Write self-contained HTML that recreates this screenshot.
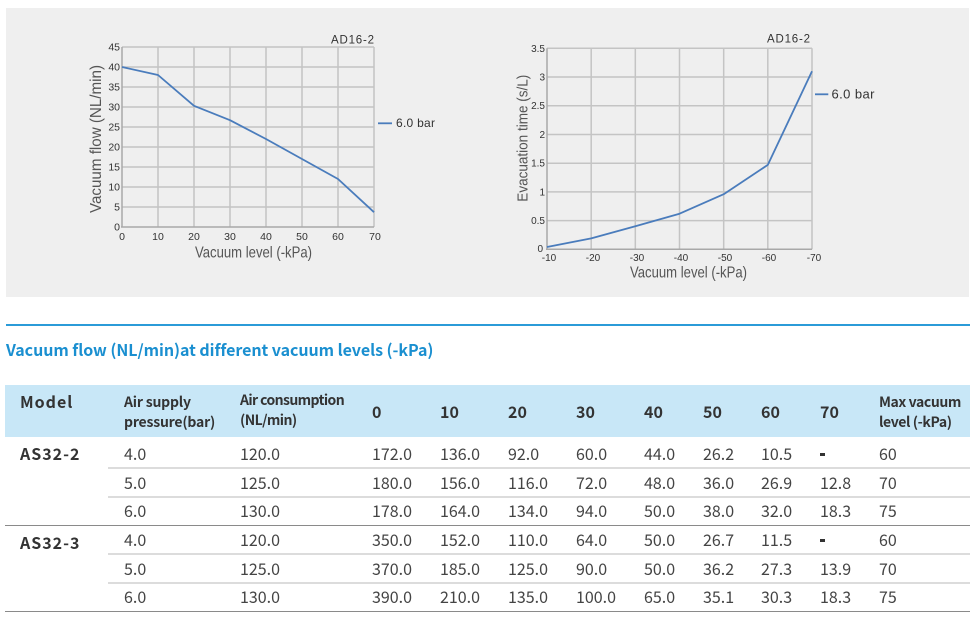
<!DOCTYPE html>
<html>
<head>
<meta charset="utf-8">
<style>
  html,body{margin:0;padding:0;background:#fff;}
  #root{position:relative;width:975px;height:626px;overflow:hidden;background:#fff;
    font-family:"Noto Sans CJK SC","Liberation Sans",sans-serif;color:#3a3a3a;}
  .abs{position:absolute;white-space:nowrap;}
  .d{position:absolute;white-space:nowrap;font-size:16px;line-height:22px;color:#444;}
  .h{position:absolute;white-space:nowrap;font-size:14px;line-height:20px;font-weight:bold;color:#333;letter-spacing:-0.2px;}
  .hn{position:absolute;white-space:nowrap;font-size:16px;line-height:22px;font-weight:bold;color:#333;}
  .m{position:absolute;white-space:nowrap;font-size:16px;line-height:22px;font-weight:bold;color:#333;letter-spacing:1px;}
  .dash{position:absolute;width:5px;height:2.5px;background:#333;}
</style>
</head>
<body>
<div id="root">
  <svg class="abs" style="left:0;top:0" width="975" height="300" viewBox="0 0 975 300" xmlns="http://www.w3.org/2000/svg">
    <rect x="6" y="8" width="963" height="289" fill="#efefef"/>
    <!-- LEFT CHART -->
    <g stroke="#c4c4c4" stroke-width="1.5" fill="none">
      <line x1="122" y1="47" x2="374" y2="47"/>
      <line x1="122" y1="67" x2="374" y2="67"/>
      <line x1="122" y1="87" x2="374" y2="87"/>
      <line x1="122" y1="107" x2="374" y2="107"/>
      <line x1="122" y1="127" x2="374" y2="127"/>
      <line x1="122" y1="147" x2="374" y2="147"/>
      <line x1="122" y1="167" x2="374" y2="167"/>
      <line x1="122" y1="187" x2="374" y2="187"/>
      <line x1="122" y1="207" x2="374" y2="207"/>
      <line x1="158" y1="47" x2="158" y2="227"/>
      <line x1="194" y1="47" x2="194" y2="227"/>
      <line x1="230" y1="47" x2="230" y2="227"/>
      <line x1="266" y1="47" x2="266" y2="227"/>
      <line x1="302" y1="47" x2="302" y2="227"/>
      <line x1="338" y1="47" x2="338" y2="227"/>
      <line x1="374" y1="47" x2="374" y2="227"/>
    </g>
    <g stroke="#a8a8a8" stroke-width="1.5">
      <line x1="122" y1="47" x2="122" y2="227"/>
      <line x1="121" y1="227" x2="374" y2="227"/>
    </g>
    <polyline fill="none" stroke="#4a7cbc" stroke-width="1.8" stroke-linejoin="round"
      points="122,67 158,75 194,105.8 230,120.2 266,139 302,159 338,179 374,212.2"/>
    <g font-family="Liberation Sans, sans-serif" font-size="10.5" fill="#333" text-anchor="end">
      <text x="120" y="50.7">45</text>
      <text x="120" y="70.7">40</text>
      <text x="120" y="90.7">35</text>
      <text x="120" y="110.7">30</text>
      <text x="120" y="130.7">25</text>
      <text x="120" y="150.7">20</text>
      <text x="120" y="170.7">15</text>
      <text x="120" y="190.7">10</text>
      <text x="120" y="210.7">5</text>
      <text x="120" y="230.7">0</text>
    </g>
    <g font-family="Liberation Sans, sans-serif" font-size="10.5" fill="#333" text-anchor="middle">
      <text x="122" y="239.8">0</text>
      <text x="158" y="239.8">10</text>
      <text x="194" y="239.8">20</text>
      <text x="230" y="239.8">30</text>
      <text x="266" y="239.8">40</text>
      <text x="302" y="239.8">50</text>
      <text x="338" y="239.8">60</text>
      <text x="375" y="239.8">70</text>
    </g>
    <text x="195" y="257.5" font-family="Liberation Sans, sans-serif" font-size="16" fill="#555" textLength="117" lengthAdjust="spacingAndGlyphs">Vacuum level (-kPa)</text>
    <text transform="translate(101,213) rotate(-90)" x="0" y="0" font-family="Liberation Sans, sans-serif" font-size="16" fill="#555" textLength="148" lengthAdjust="spacingAndGlyphs">Vacuum flow (NL/min)</text>
    <text x="331" y="43.3" font-family="Liberation Sans, sans-serif" font-size="11.5" fill="#333" textLength="43" lengthAdjust="spacing">AD16-2</text>
    <line x1="378" y1="123.3" x2="392" y2="123.3" stroke="#4a7cbc" stroke-width="1.8"/>
    <text x="396" y="127.2" font-family="Liberation Sans, sans-serif" font-size="12" fill="#333" textLength="39" lengthAdjust="spacing">6.0 bar</text>

    <!-- RIGHT CHART -->
    <g stroke="#c4c4c4" stroke-width="1.5" fill="none">
      <line x1="547" y1="48.3" x2="812" y2="48.3"/>
      <line x1="547" y1="77" x2="812" y2="77"/>
      <line x1="547" y1="105.7" x2="812" y2="105.7"/>
      <line x1="547" y1="134.5" x2="812" y2="134.5"/>
      <line x1="547" y1="163.2" x2="812" y2="163.2"/>
      <line x1="547" y1="191.9" x2="812" y2="191.9"/>
      <line x1="547" y1="220.6" x2="812" y2="220.6"/>
      <line x1="591.2" y1="48.3" x2="591.2" y2="249.3"/>
      <line x1="635.3" y1="48.3" x2="635.3" y2="249.3"/>
      <line x1="679.5" y1="48.3" x2="679.5" y2="249.3"/>
      <line x1="723.7" y1="48.3" x2="723.7" y2="249.3"/>
      <line x1="767.8" y1="48.3" x2="767.8" y2="249.3"/>
      <line x1="812" y1="48.3" x2="812" y2="249.3"/>
    </g>
    <g stroke="#a8a8a8" stroke-width="1.5">
      <line x1="547" y1="48.3" x2="547" y2="249.3"/>
      <line x1="546" y1="249.3" x2="812" y2="249.3"/>
    </g>
    <polyline fill="none" stroke="#4a7cbc" stroke-width="1.8" stroke-linejoin="round"
      points="547,247 591.2,238.4 635.3,226.3 679.5,213.7 723.7,194.2 767.8,164.9 812,71.3"/>
    <g font-family="Liberation Sans, sans-serif" font-size="10" fill="#333" text-anchor="end">
      <text x="545" y="51.8">3.5</text>
      <text x="545" y="80.5">3</text>
      <text x="545" y="109.2">2.5</text>
      <text x="545" y="138">2</text>
      <text x="545" y="166.7">1.5</text>
      <text x="545" y="195.4">1</text>
      <text x="545" y="224.1">0.5</text>
      <text x="543" y="252.2">0</text>
    </g>
    <g font-family="Liberation Sans, sans-serif" font-size="10" fill="#333" text-anchor="middle">
      <text x="549" y="261">-10</text>
      <text x="593" y="261">-20</text>
      <text x="637" y="261">-30</text>
      <text x="681" y="261">-40</text>
      <text x="725" y="261">-50</text>
      <text x="769" y="261">-60</text>
      <text x="814" y="261">-70</text>
    </g>
    <text x="630" y="277.3" font-family="Liberation Sans, sans-serif" font-size="16" fill="#555" textLength="117" lengthAdjust="spacingAndGlyphs">Vacuum level (-kPa)</text>
    <text transform="translate(527.7,201.7) rotate(-90)" x="0" y="0" font-family="Liberation Sans, sans-serif" font-size="15" fill="#555" textLength="127" lengthAdjust="spacingAndGlyphs">Evacuation time (s/L)</text>
    <text x="767" y="42.3" font-family="Liberation Sans, sans-serif" font-size="11.5" fill="#333" textLength="43" lengthAdjust="spacing">AD16-2</text>
    <line x1="815" y1="94.3" x2="828.3" y2="94.3" stroke="#4a7cbc" stroke-width="1.8"/>
    <text x="831.5" y="98.5" font-family="Liberation Sans, sans-serif" font-size="13" fill="#333" textLength="43" lengthAdjust="spacing">6.0 bar</text>
  </svg>

  <!-- blue rule -->
  <div class="abs" style="left:6px;top:324px;width:964px;height:2px;background:#2b9bd8;"></div>
  <!-- title -->
  <div class="abs" style="left:6px;top:338px;font-size:16px;line-height:22px;font-weight:bold;color:#1a8fd0;letter-spacing:-0.05px;">Vacuum flow (NL/min)at different vacuum levels (-kPa)</div>

  <!-- header band -->
  <div class="abs" style="left:5px;top:385px;width:965px;height:52px;background:#c8e7f7;"></div>
  <div class="m" style="left:20px;top:389.5px;">Model</div>
  <div class="h" style="left:124px;top:391.5px;">Air supply<br>pressure(bar)</div>
  <div class="h" style="left:240px;top:390px;letter-spacing:-0.6px;">Air consumption<br>(NL/min)</div>
  <div class="hn" style="left:372px;top:399.5px;">0</div>
  <div class="hn" style="left:440px;top:399.5px;">10</div>
  <div class="hn" style="left:508px;top:399.5px;">20</div>
  <div class="hn" style="left:576px;top:399.5px;">30</div>
  <div class="hn" style="left:644px;top:399.5px;">40</div>
  <div class="hn" style="left:703px;top:399.5px;">50</div>
  <div class="hn" style="left:761px;top:399.5px;">60</div>
  <div class="hn" style="left:820px;top:399.5px;">70</div>
  <div class="h" style="left:879px;top:391.5px;letter-spacing:-0.4px;">Max vacuum<br>level (-kPa)</div>

  <!-- row lines -->
  <div class="abs" style="left:108px;top:467px;width:862px;height:2px;background:#dcdcdc;"></div>
  <div class="abs" style="left:108px;top:495.5px;width:862px;height:2px;background:#dcdcdc;"></div>
  <div class="abs" style="left:5px;top:524.5px;width:965px;height:1px;background:#8a8a8a;"></div>
  <div class="abs" style="left:108px;top:553px;width:862px;height:2px;background:#dcdcdc;"></div>
  <div class="abs" style="left:108px;top:582px;width:862px;height:2px;background:#dcdcdc;"></div>
  <div class="abs" style="left:5px;top:610.5px;width:965px;height:1px;background:#8a8a8a;"></div>

  <!-- model labels -->
  <div class="m" style="left:20px;top:442.2px;">AS32-2</div>
  <div class="m" style="left:20px;top:531px;">AS32-3</div>

  <!-- rows -->
  <div style="position:absolute;left:0;top:442.2px;">
    <div class="d" style="left:124px;">4.0</div><div class="d" style="left:240px;">120.0</div>
    <div class="d" style="left:372px;">172.0</div><div class="d" style="left:440px;">136.0</div>
    <div class="d" style="left:508px;">92.0</div><div class="d" style="left:576px;">60.0</div>
    <div class="d" style="left:644px;">44.0</div><div class="d" style="left:703px;">26.2</div>
    <div class="d" style="left:761px;">10.5</div><div class="d" style="left:820px;color:transparent;">-</div>
    <div class="d" style="left:879px;">60</div>
  </div>
  <div class="dash" style="left:820px;top:453px;"></div>
  <div style="position:absolute;left:0;top:470.8px;">
    <div class="d" style="left:124px;">5.0</div><div class="d" style="left:240px;">125.0</div>
    <div class="d" style="left:372px;">180.0</div><div class="d" style="left:440px;">156.0</div>
    <div class="d" style="left:508px;">116.0</div><div class="d" style="left:576px;">72.0</div>
    <div class="d" style="left:644px;">48.0</div><div class="d" style="left:703px;">36.0</div>
    <div class="d" style="left:761px;">26.9</div><div class="d" style="left:820px;">12.8</div>
    <div class="d" style="left:879px;">70</div>
  </div>
  <div style="position:absolute;left:0;top:499.4px;">
    <div class="d" style="left:124px;">6.0</div><div class="d" style="left:240px;">130.0</div>
    <div class="d" style="left:372px;">178.0</div><div class="d" style="left:440px;">164.0</div>
    <div class="d" style="left:508px;">134.0</div><div class="d" style="left:576px;">94.0</div>
    <div class="d" style="left:644px;">50.0</div><div class="d" style="left:703px;">38.0</div>
    <div class="d" style="left:761px;">32.0</div><div class="d" style="left:820px;">18.3</div>
    <div class="d" style="left:879px;">75</div>
  </div>
  <div style="position:absolute;left:0;top:528px;">
    <div class="d" style="left:124px;">4.0</div><div class="d" style="left:240px;">120.0</div>
    <div class="d" style="left:372px;">350.0</div><div class="d" style="left:440px;">152.0</div>
    <div class="d" style="left:508px;">110.0</div><div class="d" style="left:576px;">64.0</div>
    <div class="d" style="left:644px;">50.0</div><div class="d" style="left:703px;">26.7</div>
    <div class="d" style="left:761px;">11.5</div><div class="d" style="left:820px;color:transparent;">-</div>
    <div class="d" style="left:879px;">60</div>
  </div>
  <div class="dash" style="left:820px;top:539px;"></div>
  <div style="position:absolute;left:0;top:556.6px;">
    <div class="d" style="left:124px;">5.0</div><div class="d" style="left:240px;">125.0</div>
    <div class="d" style="left:372px;">370.0</div><div class="d" style="left:440px;">185.0</div>
    <div class="d" style="left:508px;">125.0</div><div class="d" style="left:576px;">90.0</div>
    <div class="d" style="left:644px;">50.0</div><div class="d" style="left:703px;">36.2</div>
    <div class="d" style="left:761px;">27.3</div><div class="d" style="left:820px;">13.9</div>
    <div class="d" style="left:879px;">70</div>
  </div>
  <div style="position:absolute;left:0;top:585.2px;">
    <div class="d" style="left:124px;">6.0</div><div class="d" style="left:240px;">130.0</div>
    <div class="d" style="left:372px;">390.0</div><div class="d" style="left:440px;">210.0</div>
    <div class="d" style="left:508px;">135.0</div><div class="d" style="left:576px;">100.0</div>
    <div class="d" style="left:644px;">65.0</div><div class="d" style="left:703px;">35.1</div>
    <div class="d" style="left:761px;">30.3</div><div class="d" style="left:820px;">18.3</div>
    <div class="d" style="left:879px;">75</div>
  </div>
</div>
</body>
</html>
